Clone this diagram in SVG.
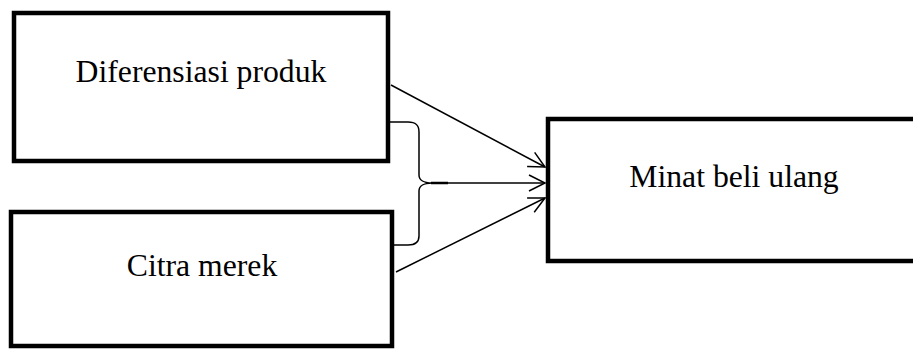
<svg xmlns="http://www.w3.org/2000/svg" width="913" height="349" viewBox="0 0 913 349">
<style>
.box{fill:#fff;stroke:#000;stroke-width:4.5}
.lbl{font-family:"Liberation Serif","Times New Roman",serif;font-size:31.7px;fill:#000;text-anchor:middle}
.con{fill:none;stroke:#000;stroke-width:1.5}
</style>
<defs>
<marker id="arr" markerUnits="userSpaceOnUse" markerWidth="20" markerHeight="20" viewBox="-18 -10 20 20" refX="0" refY="0" orient="auto">
<path d="M-16,-8 L0,0 L-16,8" fill="none" stroke="#000" stroke-width="1.5"/>
</marker>
</defs>
<rect width="913" height="349" fill="#fff"/>
<g id="connectors">
<line class="con" x1="391" y1="85" x2="545" y2="167" marker-end="url(#arr)"/>
<line class="con" x1="432" y1="183" x2="545" y2="183" marker-end="url(#arr)"/>
<line class="con" x1="396" y1="272" x2="545" y2="198" marker-end="url(#arr)"/>
<path class="con" d="M390,122 L408,122 C416,122 419,125 419,132 L419,175 C419,180 424,183 432,183 C424,183 419,186 419,191 L419,236 C419,242 416,245 408,245 L388,245"/>
<line x1="431" y1="183" x2="448" y2="183" stroke="#000" stroke-width="2.5"/>
</g>
<g id="node-diferensiasi">
<rect class="box" x="14" y="13" width="374" height="148"/>
<text class="lbl" x="201" y="82">Diferensiasi produk</text>
</g>
<g id="node-citra">
<rect class="box" x="11" y="212" width="381" height="134"/>
<text class="lbl" x="202" y="276">Citra merek</text>
</g>
<g id="node-minat">
<rect class="box" x="548" y="119" width="372" height="142"/>
<text class="lbl" x="734" y="187">Minat beli ulang</text>
</g>
</svg>
